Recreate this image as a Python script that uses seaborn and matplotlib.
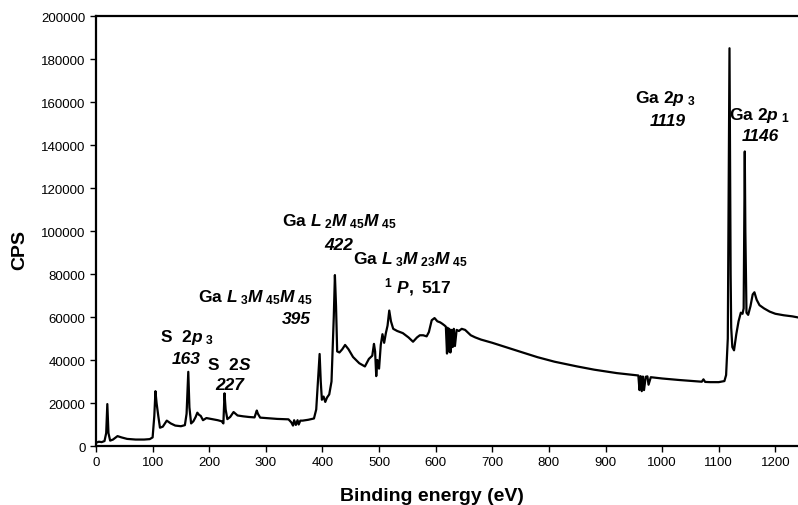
import pandas as pd
import matplotlib
matplotlib.use("Agg")
import matplotlib.pyplot as plt
import seaborn as sns

# XPS survey spectrum
energy = [0, 5, 10, 15, 18, 20, 22, 25, 30, 38, 45, 55, 70, 85, 95, 100, 103, 105, 107, 110,
          113, 118, 125, 132, 140, 150, 157, 160, 163, 165, 168, 172, 176, 179, 182, 185, 189,
          195, 205, 215, 222, 225, 227, 229, 232, 237, 243, 250, 260, 270, 280, 284, 286, 290,
          300, 320, 340, 345, 348, 350, 353, 356, 358, 361, 365, 375, 385, 389, 392, 395, 397,
          399, 402, 405, 408, 412, 416, 418, 420, 422, 424, 426, 430, 435, 440, 446, 454, 465,
          475, 482, 488, 491, 493, 495, 497, 500, 503, 506, 509, 512, 515, 518, 521, 525, 532,
          542, 552, 560, 567, 572, 578, 584, 588, 593, 598, 603, 608, 612, 616, 618, 620, 621,
          623, 624, 626, 628, 630, 632, 634, 637, 641, 646, 652, 656, 662, 670, 680, 700, 720,
          750, 780, 810, 850, 880, 920, 950, 958, 960, 962, 964, 966, 968, 971, 974, 976, 980,
          1000, 1030, 1060, 1070, 1073, 1076, 1085, 1100, 1110, 1113, 1116, 1118, 1119, 1120,
          1121, 1122, 1124, 1127, 1131, 1135, 1139, 1142, 1144, 1146, 1147, 1149, 1152, 1156,
          1160, 1163, 1167, 1172, 1180, 1190, 1200, 1215, 1230, 1240]
cps = [1500, 2000, 1800, 2300, 6000, 19500, 6000, 2500, 3000, 4600, 4000, 3300, 3000, 3000,
       3200, 4000, 14000, 25500, 20000, 14000, 8500, 9000, 11800, 10500, 9500, 9200, 9700,
       15000, 34500, 18000, 10500, 11500, 13500, 15500, 14500, 14000, 12000, 13000, 12500,
       12000, 11500, 10500, 24500, 17000, 12500, 13500, 15800, 14200, 13800, 13500, 13300,
       16500, 15000, 13200, 13000, 12600, 12400, 11000, 9500, 12000, 9800, 12000, 10000,
       11800, 11800, 12200, 12800, 17000, 30000, 42800, 30000, 21500, 23000, 20500, 22500,
       24000, 30000, 45000, 60000, 79500, 65000, 44000, 43500, 45000, 47000, 45000, 41400,
       38500, 37000, 40500, 42000, 47500, 44000, 32500, 40000, 36000, 47000, 52000, 48000,
       52500, 56000, 63000, 58000, 54500, 53500, 52500, 50500, 48500, 50500, 51500, 51500,
       51000, 53000, 58500, 59500, 58000, 57500, 56800, 56000, 55500, 43000, 55000, 44000,
       54500, 43500, 54000, 46000, 54500, 46500, 54000, 53500, 54500, 54000, 53000, 51500,
       50500, 49500, 48000, 46300, 43800, 41300, 39200, 37000, 35500, 33900, 33000, 32800,
       26000, 32500, 25500, 32300, 26000, 32200, 32400, 28500, 32000, 31400, 30700, 30100,
       29900, 31000, 29800, 29700, 29700, 30200, 33000, 50000, 140000, 185000, 136000,
       80000, 55000, 46000, 44500, 52000, 58000, 62000, 61500, 64000, 137000, 100000, 62000,
       61000, 65000, 70500, 71500, 68000, 65500, 64000, 62500, 61500, 60800, 60300, 59800]

x_ticks = list(range(0, 1201, 100))
y_ticks = list(range(0, 200001, 20000))

peak_labels = [r"$\mathrm{S}\ \ \mathit{2p}_{\ \mathit{3}}$", "163",
               r"$\mathrm{S}\ \ \mathit{2S}$", "227",
               r"$\mathrm{Ga}\ L_{\ \mathit{3}}M_{\ \mathit{45}}M_{\ \mathit{45}}$", "395",
               r"$\mathrm{Ga}\ L_{\ \mathit{2}}M_{\ \mathit{45}}M_{\ \mathit{45}}$", "422",
               r"$\mathrm{Ga}\ L_{\ \mathit{3}}M_{\ \mathit{23}}M_{\ \mathit{45}}$",
               r"$^{\mathit{1}}\ \mathit{P,\ 517}$",
               r"$\mathrm{Ga}\ \mathit{2p}_{\ \mathit{3}}$", "1119",
               r"$\mathrm{Ga}\ \mathit{2p}_{\ \mathit{1}}$", "1146"]

df = pd.DataFrame({"Binding energy (eV)": energy, "CPS": cps})

sns.set_style("ticks")
plt.rcParams["font.family"] = ["Liberation Sans", "DejaVu Sans"]
plt.rcParams["text.color"] = "black"
plt.rcParams["axes.labelcolor"] = "black"
plt.rcParams["mathtext.fontset"] = "custom"
plt.rcParams["mathtext.rm"] = "Liberation Sans:bold"
plt.rcParams["mathtext.it"] = "Liberation Sans:bold:italic"
plt.rcParams["mathtext.bf"] = "Liberation Sans:bold"

fig = plt.figure(figsize=(7.98, 5.06), dpi=100)
ax = fig.add_axes([0.1203, 0.1166, 0.8797, 0.8498])

sns.lineplot(data=df, x="Binding energy (eV)", y="CPS", estimator=None, sort=False,
             color="black", linewidth=1.6, ax=ax)

ax.set_xlim(0, 1240)
ax.set_ylim(0, 200000)
ax.set_xticks(x_ticks)
ax.set_yticks(y_ticks)
ax.tick_params(labelsize=9.5, length=4, width=1, colors="black")
for s in ["left", "bottom", "top"]:
    ax.spines[s].set_linewidth(1.6)
    ax.spines[s].set_color("black")
ax.spines["right"].set_visible(False)

ax.set_xlabel("Binding energy (eV)", fontsize=14, fontweight="bold")
ax.set_ylabel("CPS", fontsize=14, fontweight="bold")
ax.xaxis.set_label_coords(0.479, -0.095)
ax.yaxis.set_label_coords(-0.097, 0.458)

# label positions (eV, CPS)
pos = [(160, 50700), (160, 40500), (236, 38100), (236, 28800), (282, 69300), (353, 59100),
       (431, 104650), (429, 93950), (556, 87000), (568, 74400), (1006, 162300), (1009, 151200),
       (1172, 154400), (1174, 144200)]
for (px, py), lab in zip(pos, peak_labels):
    if lab.startswith("$"):
        ax.text(px, py, lab, fontsize=12.5, ha="center", va="center", color="black")
    else:
        ax.text(px, py, lab, fontsize=12.5, ha="center", va="center", color="black",
                fontweight="bold", fontstyle="italic")

fig.savefig("out.png", dpi=100)
